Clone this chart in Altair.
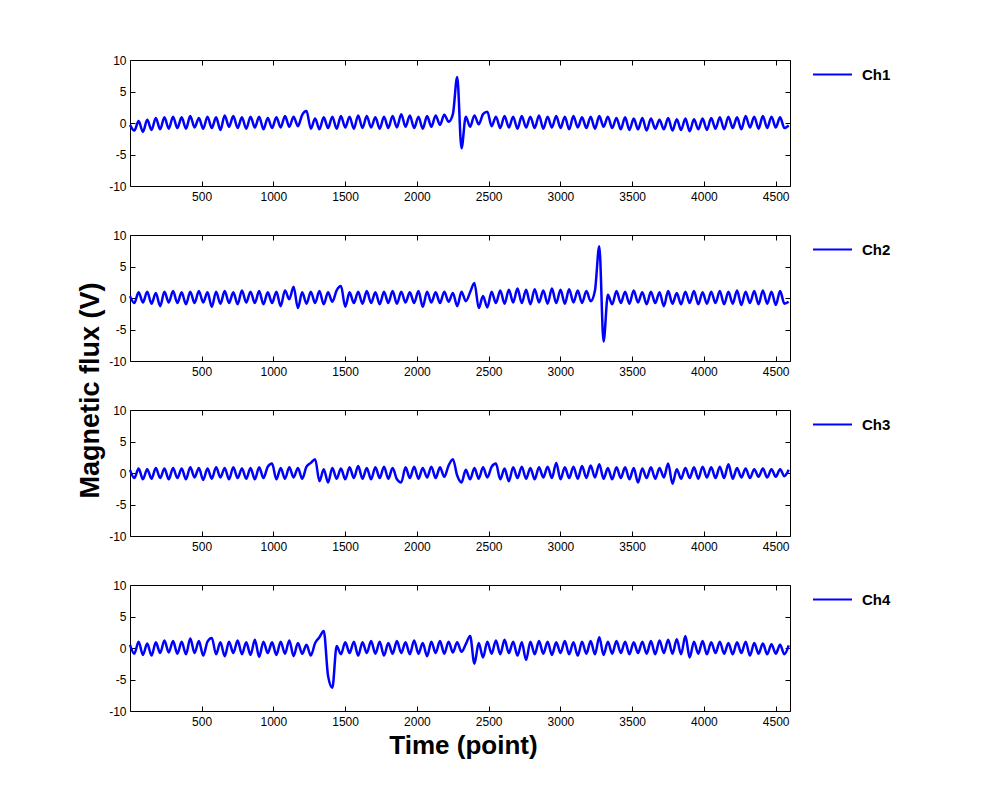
import altair as alt
import pandas as pd

# sample grid (time in points)
time = list(range(1, 4600, 30))

channels = ["Ch1", "Ch2", "Ch3", "Ch4"]

ch1 = [-0.3, -1.2, 0.3, -1.4, 0.5, -1.1, 0.8, -1.0, 0.9, -0.9,
       1.0, -0.8, 0.9, -0.9, 1.1, -0.7, 0.8, -0.9, 1.0, -0.8,
       0.9, -1.1, 1.2, -0.6, 1.1, -0.8, 0.9, -0.9, 1.0, -0.7,
       1.0, -1.0, 0.8, -0.8, 0.9, -0.7, 1.1, -0.6, 1.0, -0.5,
       1.3, 1.9, -0.9, 0.7, -1.0, 0.9, -0.8, 1.0, -0.9, 1.1,
       -0.7, 1.0, -0.9, 1.2, -0.8, 1.1, -0.7, 0.9, -0.9, 1.0,
       -0.8, 1.1, -0.7, 1.4, -0.6, 1.2, -0.8, 1.0, -0.9, 1.1,
       -0.6, 1.2, -0.3, 1.3, 0.2, 1.4, 7.3, -4.0, 1.0, -0.6,
       1.2, -0.2, 1.4, 1.8, -0.5, 1.0, -0.8, 1.1, -0.7, 1.0,
       -0.9, 1.1, -0.7, 1.0, -0.8, 1.2, -0.9, 1.0, -0.7, 1.1,
       -0.8, 1.0, -1.0, 1.1, -0.7, 0.9, -0.8, 1.0, -0.9, 1.1,
       -0.6, 1.0, -0.8, 0.8, -1.0, 0.9, -1.1, 0.7, -1.0, 0.8,
       -1.2, 0.7, -0.9, 0.5, -1.0, 0.8, -1.2, 0.6, -1.1, 0.7,
       -1.3, 0.6, -1.0, 0.7, -1.1, 0.8, -0.9, 0.9, -1.0, 1.0,
       -0.8, 0.9, -1.0, 1.1, -0.7, 1.0, -0.9, 1.1, -0.8, 1.0,
       -0.7, 0.9, -0.8, -0.4]

ch2 = [0.3, -0.8, 0.9, -0.7, 1.0, -0.9, 0.8, -1.3, 1.0, -0.7,
       1.1, -0.8, 0.9, -1.0, 1.0, -0.8, 1.1, -0.7, 0.9, -1.4,
       1.0, -0.9, 1.1, -0.8, 0.9, -1.0, 1.2, -0.7, 1.0, -0.8,
       1.1, -1.0, 0.9, -0.8, 1.0, -1.3, 1.2, -0.2, 1.8, -1.6,
       0.9, -0.9, 1.0, -0.8, 1.1, -1.0, 0.9, -0.6, 1.2, 1.9,
       -1.4, 0.9, -0.8, 1.0, -0.9, 1.1, -0.8, 0.9, -1.0, 1.0,
       -0.8, 1.1, -0.9, 1.0, -0.7, 0.9, -0.8, 1.1, -1.4, 1.0,
       -0.7, 0.9, -0.8, 1.0, -0.6, 0.8, -1.3, 1.0, -0.5, 0.9,
       2.4, -1.6, 0.3, -1.5, 1.0, -0.8, 1.2, -0.9, 1.3, -0.7,
       1.5, -0.8, 1.3, -1.0, 1.4, -0.7, 1.2, -0.9, 1.5, -0.8,
       1.3, -0.9, 1.4, -0.7, 1.2, -0.8, 1.1, -0.5, 1.2, 8.2,
       -6.9, 0.5, -1.0, 1.1, -0.8, 1.0, -0.9, 1.2, -0.7, 0.9,
       -1.0, 1.0, -0.8, 0.9, -1.3, 1.1, -0.9, 0.8, -1.0, 1.0,
       -0.8, 1.1, -1.0, 0.9, -0.9, 1.0, -0.8, 1.1, -1.0, 1.0,
       -0.9, 1.2, -1.1, 1.0, -0.8, 1.1, -1.0, 1.2, -0.9, 1.0,
       -1.1, 1.1, -0.9, -0.6]

ch3 = [0.5, -0.8, 0.7, -1.0, 0.6, -0.9, 0.8, -0.8, 0.7, -1.0,
       0.8, -0.8, 0.7, -1.0, 0.9, -0.7, 0.8, -1.1, 0.7, -0.9,
       0.9, -0.7, 0.8, -1.0, 0.9, -0.8, 0.7, -0.9, 0.8, -1.0,
       0.9, -0.8, 1.0, 1.5, -1.0, 0.8, -0.9, 0.9, -0.7, 0.8,
       -0.9, 1.0, 1.6, 2.2, -1.3, 0.6, -1.5, 0.8, -0.9, 0.7,
       -1.0, 0.9, -0.8, 1.1, -0.9, 0.8, -1.0, 0.9, -0.8, 1.0,
       -0.9, 0.8, -1.0, -1.5, 0.9, -0.8, 1.0, -0.9, 0.8, -0.7,
       1.0, -0.8, 0.9, -0.6, 1.2, 2.2, -0.4, -1.5, 0.5, -1.0,
       0.8, -0.9, 0.9, -0.7, 1.0, 1.5, -1.0, 0.7, -1.3, 0.9,
       -0.8, 1.0, -0.9, 0.8, -1.0, 0.9, -0.7, 1.0, -0.8, 1.6,
       -1.0, 0.9, -0.8, 1.0, -0.9, 1.1, -0.8, 1.2, -0.7, 1.4,
       -0.9, 0.8, -1.0, 0.9, -0.8, 0.9, -1.0, 0.8, -1.5, 0.7,
       -0.8, 0.9, -0.9, 0.8, -0.7, 1.5, -1.7, 0.6, -0.9, 0.8,
       -0.8, 0.9, -0.9, 1.0, -0.7, 0.9, -0.8, 1.0, -0.8, 1.4,
       -0.9, 0.8, -0.7, 0.7, -0.8, 0.6, -0.6, 0.7, -0.7, 0.6,
       -0.6, 0.6, -0.5, 0.5]

ch4 = [0.5, -0.9, 1.0, -1.1, 0.7, -1.2, 0.9, -0.8, 1.2, -0.7,
       1.1, -0.9, 1.0, -1.0, 1.5, -0.8, 1.1, -1.2, 1.0, 1.6,
       -1.0, 0.9, -1.3, 1.0, -0.8, 1.2, -1.0, 0.9, -1.1, 1.3,
       -1.4, 1.0, -0.8, 0.9, -1.1, 1.0, -0.9, 1.2, -1.3, 0.8,
       -0.9, 0.5, -1.2, 0.8, 1.7, 2.7, -4.4, -6.3, 0.3, -1.0,
       0.9, -0.8, 1.0, -1.2, 0.9, -0.8, 1.1, -0.9, 1.0, -1.2,
       0.8, -0.9, 1.1, -0.8, 0.9, -1.0, 1.2, -0.9, 0.8, -1.3,
       1.0, -0.8, 1.1, -0.9, 1.0, -0.7, 0.9, -0.6, 0.6, 1.9,
       -2.5, 0.8, -1.5, 1.0, -0.9, 1.2, -1.0, 1.3, -0.8, 1.0,
       -1.2, 0.9, -1.9, 1.0, -1.0, 1.1, -0.9, 1.0, -1.1, 0.9,
       -0.8, 1.1, -1.0, 0.9, -1.2, 1.0, -0.9, 1.1, -1.0, 1.7,
       -1.1, 1.0, -0.9, 1.1, -0.8, 1.0, -1.0, 0.9, -0.8, 1.0,
       -0.9, 1.1, -1.0, 1.2, -0.8, 1.3, -0.9, 1.4, -1.0, 1.9,
       -1.5, 1.0, -0.9, 1.1, -1.0, 0.9, -0.8, 1.0, -0.9, 0.8,
       -1.0, 0.9, -0.8, 1.0, -1.2, 0.8, -0.9, 0.7, -1.0, 0.6,
       -0.9, 0.5, -1.0, 0.4]

series = [ch1, ch2, ch3, ch4]

x_ticks = [500, 1000, 1500, 2000, 2500, 3000, 3500, 4000, 4500]
y_ticks = [-10, -5, 0, 5, 10]
x_domain = [1, 4600]
y_domain = [-10, 10]

FONT = "Liberation Sans"
BLUE = "#0000ff"
y_label_expr = "datum.value < 0 ? '-' + abs(datum.value) : '' + datum.value"
x_label_expr = "'' + datum.value"


def panel(name, vals, idx):
    n = min(len(vals), len(time))
    df = pd.DataFrame({"t": time[:n], "v": vals[:n], "ch": name})
    xs = alt.Scale(domain=x_domain, nice=False, zero=False)
    ys = alt.Scale(domain=y_domain, nice=False, zero=False)

    x_kw = dict(orient="bottom", values=x_ticks, offset=-5, tickSize=5,
                domain=False, grid=False, labelPadding=5, labelFontSize=12,
                labelFlush=False, labelExpr=x_label_expr)
    if idx == 3:
        x_kw.update(title="Time (point)", titleFontSize=26, titleFontWeight="bold",
                    titlePadding=5, titleX=333)
    else:
        x_kw.update(title=None)

    y_kw = dict(orient="left", values=y_ticks, offset=-5, tickSize=5,
                domain=False, grid=False, labelPadding=4, labelFontSize=12,
                labelExpr=y_label_expr, labelFlush=False)
    if idx == 0:
        y_kw.update(title="Magnetic flux (V)", titleFontSize=27, titleFontWeight="bold",
                    titleAngle=270, titleAlign="center", titleBaseline="bottom",
                    titleX=-31, titleY=330)
    else:
        y_kw.update(title=None)

    line = alt.Chart(df).mark_line(strokeWidth=2.5, interpolate="monotone").encode(
        x=alt.X("t:Q", scale=xs, axis=alt.Axis(**x_kw)),
        y=alt.Y("v:Q", scale=ys, axis=alt.Axis(**y_kw)),
        color=alt.Color(
            "ch:N",
            scale=alt.Scale(domain=[name], range=[BLUE]),
            legend=alt.Legend(
                orient="none", legendX=682, legendY=-6, title=None,
                symbolType="stroke", symbolSize=1521, symbolStrokeWidth=2,
                labelFontSize=15, labelFontWeight="bold", labelFont=FONT,
                labelColor="black", labelOffset=9, padding=0,
            ),
        ),
    )

    mirror = alt.Chart(df).mark_line(strokeOpacity=0).encode(
        x=alt.X("t:Q", scale=xs, axis=alt.Axis(
            orient="top", values=x_ticks, offset=-5, tickSize=5, labels=False,
            domain=False, grid=False, title=None)),
        y=alt.Y("v:Q", scale=ys, axis=alt.Axis(
            orient="right", values=y_ticks, offset=-5, tickSize=5, labels=False,
            domain=False, grid=False, title=None)),
    )

    return alt.layer(line, mirror).resolve_axis(x="independent", y="independent").properties(
        width=660, height=126)


panels = [panel(c, s, i) for i, (c, s) in enumerate(zip(channels, series))]

chart = alt.vconcat(*panels, spacing=49, bounds="flush").resolve_scale(
    color="independent"
).properties(
    padding={"left": 67, "top": 45, "right": 5, "bottom": 5},
    background="white",
).configure_view(
    stroke="black", strokeWidth=1
).configure_axis(
    labelFont=FONT, titleFont=FONT, labelColor="black", titleColor="black",
    tickColor="black", tickWidth=1,
)

chart.save("out.html", embed_options={"renderer": "svg", "actions": False})
